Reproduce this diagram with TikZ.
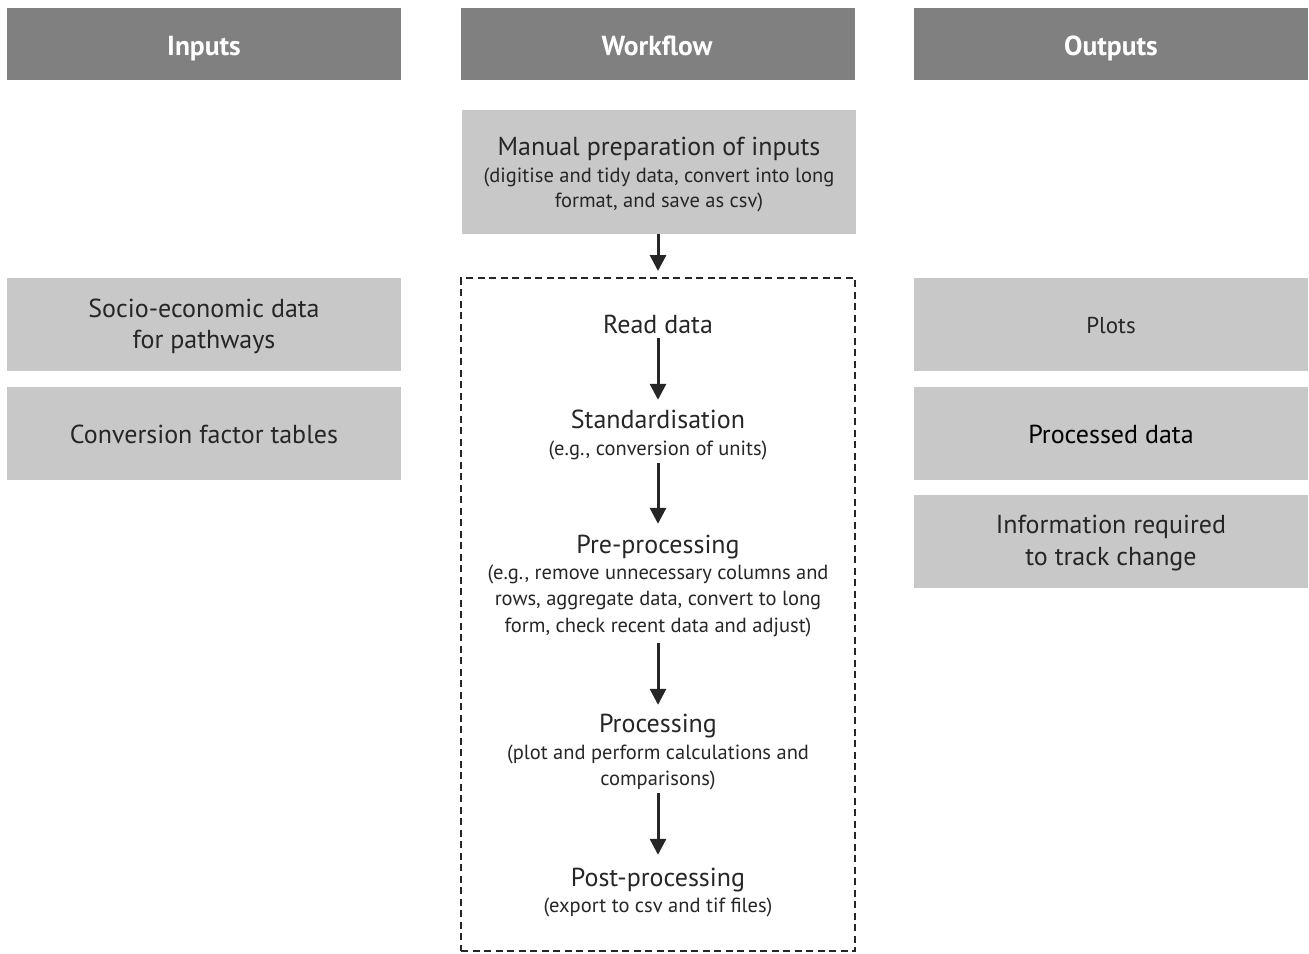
\documentclass[tikz,border=0pt]{standalone}
\usepackage{fontspec}
\setmainfont{PT Sans}
\usetikzlibrary{arrows.meta}
\definecolor{headgray}{HTML}{808080}
\definecolor{boxgray}{HTML}{C8C8C8}
\definecolor{ink}{HTML}{262626}
\tikzset{
  header/.style={fill=headgray, draw=none, minimum width=394pt, minimum height=72pt, inner sep=0pt},
  headtext/.style={text=white, font=\fontsize{27.5}{30}\selectfont\bfseries, inner sep=0pt, anchor=base},
  panel/.style={fill=boxgray, draw=none, minimum width=394pt, minimum height=93pt, inner sep=0pt},
  titleline/.style={text=ink, font=\fontsize{26}{28}\selectfont, inner sep=0pt, anchor=base,
    text height=19pt, text depth=5pt},
  subline/.style={text=ink, font=\fontsize{20.5}{24}\selectfont, inner sep=0pt, anchor=base,
    text height=15pt, text depth=5pt},
  arr/.style={line width=3pt, draw=ink, -{Triangle[width=16pt,length=16pt]}},
  frame/.style={draw=ink, line width=2pt, dash pattern=on 7pt off 4.5pt, inner sep=0pt}
}
\begin{document}
\begin{tikzpicture}[x=1pt, y=-1pt]
  \useasboundingbox (0,0) rectangle (1309,953);

  % column headers
  \node[header] (hin)  at (204,44) {};
  \node[header] (hwf)  at (658,44) {};
  \node[header] (hout) at (1111,44) {};
  \node[headtext] (hinT)  at (204,55) {Inputs};
  \node[headtext] (hwfT)  at (657,55) {Workflow};
  \node[headtext] (houtT) at (1111,55) {Outputs};

  % inputs
  \node[panel] (socio) at (204,324.5) {};
  \node[panel] (conv)  at (204,433.5) {};
  \node[titleline] (socio1) at (204,317) {Socio-economic data};
  \node[titleline] (socio2) at (204,348) {for pathways};
  \node[titleline] (conv1)  at (204,443) {Conversion factor tables};

  % outputs
  \node[panel] (plots) at (1111,324.5) {};
  \node[panel] (proc)  at (1111,433.5) {};
  \node[panel] (info)  at (1111,541.5) {};
  \node[titleline, font=\fontsize{23}{26}\selectfont] (plots1) at (1111,333) {Plots};
  \node[titleline, text=black] (proc1) at (1111,443) {Processed data};
  \node[titleline] (info1) at (1111,533) {Information required};
  \node[titleline] (info2) at (1111,565) {to track change};

  % manual preparation
  \node[panel, minimum height=124pt] (manual) at (659,172) {};
  \node[titleline] (man1) at (659,155) {Manual preparation of inputs};
  \node[subline] (man2) at (659,182) {(digitise and tidy data, convert into long};
  \node[subline] (man3) at (659,207) {format, and save as csv)};

  % workflow frame
  \node[frame, minimum width=394pt, minimum height=673pt] (box) at (658,614.5) {};

  % workflow steps
  \node[titleline] (read) at (658,333) {Read data};

  \node[titleline] (std)  at (658,428) {Standardisation};
  \node[subline]   (std1) at (658,455) {(e.g., conversion of units)};

  \node[titleline] (pre)  at (658,553) {Pre-processing};
  \node[subline]   (pre1) at (658,579) {(e.g., remove unnecessary columns and};
  \node[subline]   (pre2) at (658,605) {rows, aggregate data, convert to long};
  \node[subline]   (pre3) at (658,632) {form, check recent data and adjust)};

  \node[titleline] (pro)  at (658,732) {Processing};
  \node[subline]   (pro1) at (658,759) {(plot and perform calculations and};
  \node[subline]   (pro2) at (658,785) {comparisons)};

  \node[titleline] (post)  at (658,886) {Post-processing};
  \node[subline]   (post1) at (658,912) {(export to csv and tif files)};

  % connectors
  \draw[arr, shorten >=6pt] (box.north |- manual.south) -- (box.north);
  \draw[arr, shorten >=9pt] (read.south) -- (std.north);
  \draw[arr, shorten <=3pt, shorten >=10pt] (std1.south) -- (pre.north);
  \draw[arr, shorten <=6pt, shorten >=8pt] (pre3.south) -- (pro.north);
  \draw[arr, shorten <=3pt, shorten >=12pt] (pro2.south) -- (post.north);
\end{tikzpicture}
\end{document}
